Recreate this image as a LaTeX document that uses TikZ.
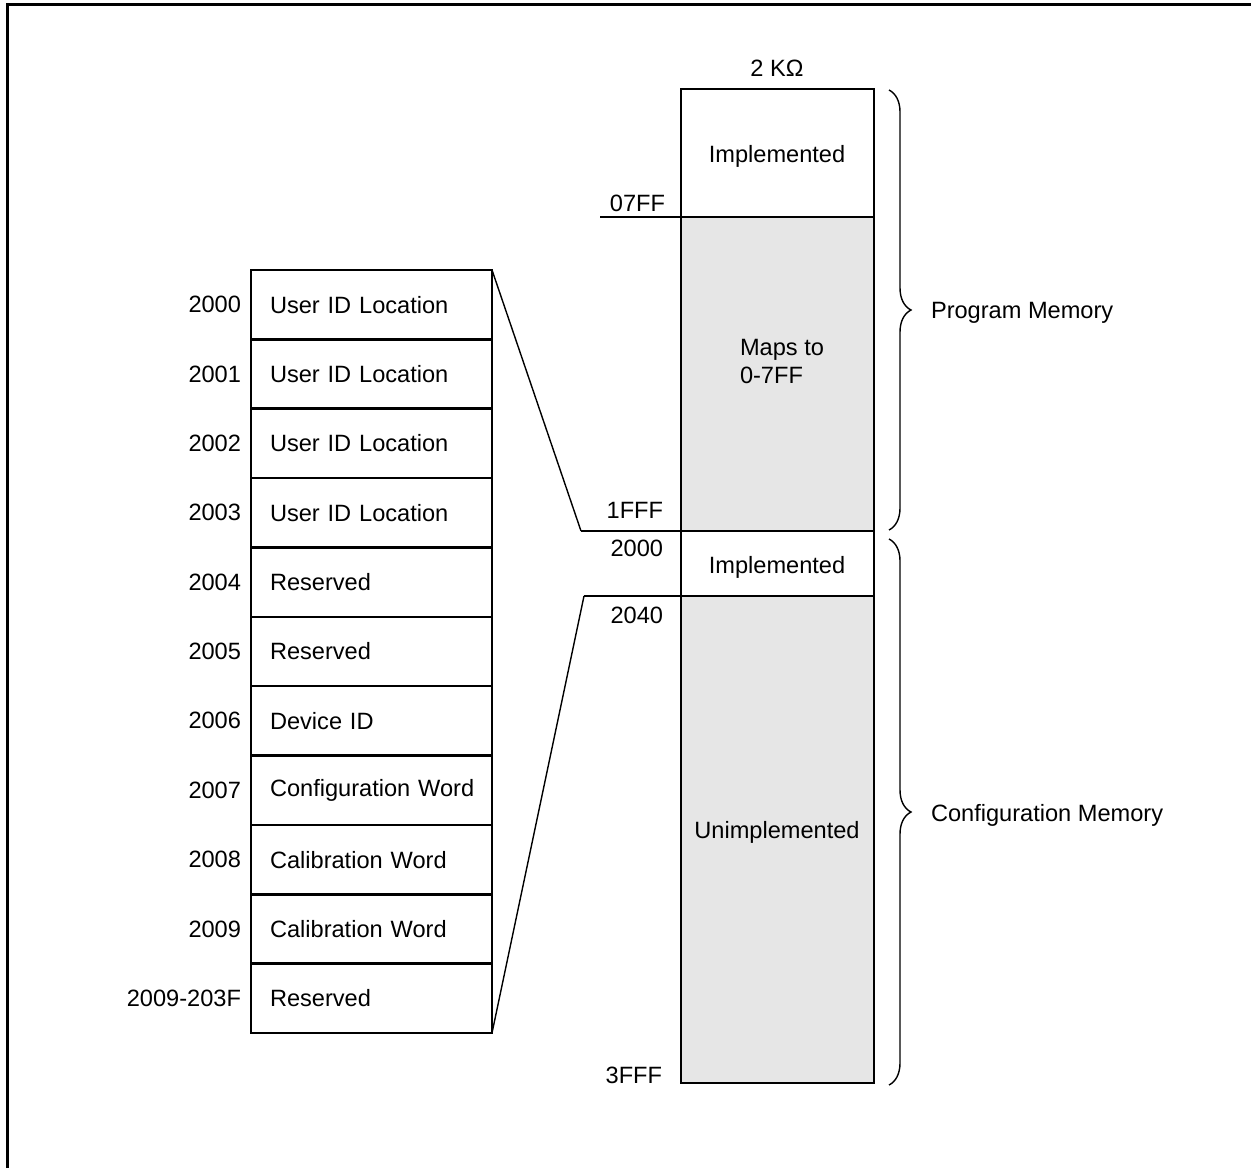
\documentclass[tikz,border=0pt]{standalone}
\usepackage{fontspec}
\setmainfont{Liberation Sans}
\usetikzlibrary{decorations.pathreplacing}
\definecolor{memgray}{HTML}{E6E6E6}
\begin{document}
\begin{tikzpicture}[x=0.5pt,y=-0.5pt,
  every node/.style={font=\fontsize{11.8}{14}\selectfont, inner sep=0pt, outer sep=0pt},
  membox/.style={draw, line width=1.3pt, minimum width=96.5pt},
  grayfill/.style={fill=memgray},
  rowbox/.style={draw, line width=1.3pt, minimum width=120.5pt, minimum height=34.68pt,
    text width=101.5pt, inner xsep=9.5pt, align=left},
  addr/.style={anchor=east},
  thinline/.style={line width=0.7pt},
  boundary/.style={line width=1.3pt},
  bracestyle/.style={line width=0.7pt, decorate, decoration={brace, amplitude=11pt}},
  memlabel/.style={anchor=west}
]
\useasboundingbox (0,0) rectangle (1251,1168);
% outer frame (only top and left visible)
\draw[line width=1.5pt] (7,1168) -- (7,4) -- (1251,4);

% memory column
\node[membox, minimum height=64pt] (impl1) at (777.5,153) {};
\node[membox, grayfill, minimum height=157pt] (maps) at (777.5,374) {};
\node[membox, minimum height=32.5pt] (impl2) at (777.5,563.5) {};
\node[membox, grayfill, minimum height=243.5pt] (unimpl) at (777.5,839.5) {};

\node (size) at (777,68) {2 KΩ};
\node (t1) at (777,156) {Implemented};
\node[anchor=west, align=left] (t2) at (740,361) {Maps to\\0-7FF};
\node (t3) at (777,567) {Implemented};
\node (t4) at (777,832) {Unimplemented};

% address labels on memory column
\node[addr] (a07ff) at (665,203) {07FF};
\node[addr] (a1fff) at (663,510) {1FFF};
\node[addr] (a2000) at (663,548) {2000};
\node[addr] (a2040) at (663,615) {2040};
\node[addr] (a3fff) at (662,1075) {3FFF};

% boundary extension lines
\coordinate (c07ff) at (600,217);
\coordinate (c1fff) at (581,531);
\coordinate (c2040) at (584,596);
\draw[boundary] (c07ff) -- (maps.north west);
\draw[boundary] (c1fff) -- (impl2.north west);
\draw[boundary] (c2040) -- (unimpl.north west);

% braces
\draw[bracestyle] (889,90) -- (889,530);
\draw[bracestyle] (889,539) -- (889,1085);
\node[memlabel] (pm) at (931,313) {Program Memory};
\node[memlabel] (cm) at (931,815) {Configuration Memory};

% configuration table
\foreach \i/\a/\t in {0/2000/User ID Location, 1/2001/User ID Location, 2/2002/User ID Location,
  3/2003/User ID Location, 4/2004/Reserved, 5/2005/Reserved, 6/2006/Device ID,
  7/2007/Configuration Word, 8/2008/Calibration Word, 9/2009/Calibration Word, 10/2009-203F/Reserved}{
  \node[rowbox] (r\i) at (371.5,{270+69.36*(\i+0.5)}) {\mbox{\t}};
  \node[addr] (l\i) at (241,{270+69.36*(\i+0.5)}) {\a};
}

% connectors
\draw[thinline] (r0.north east) -- (c1fff);
\draw[thinline] (r10.south east) -- (c2040);
\end{tikzpicture}
\end{document}
